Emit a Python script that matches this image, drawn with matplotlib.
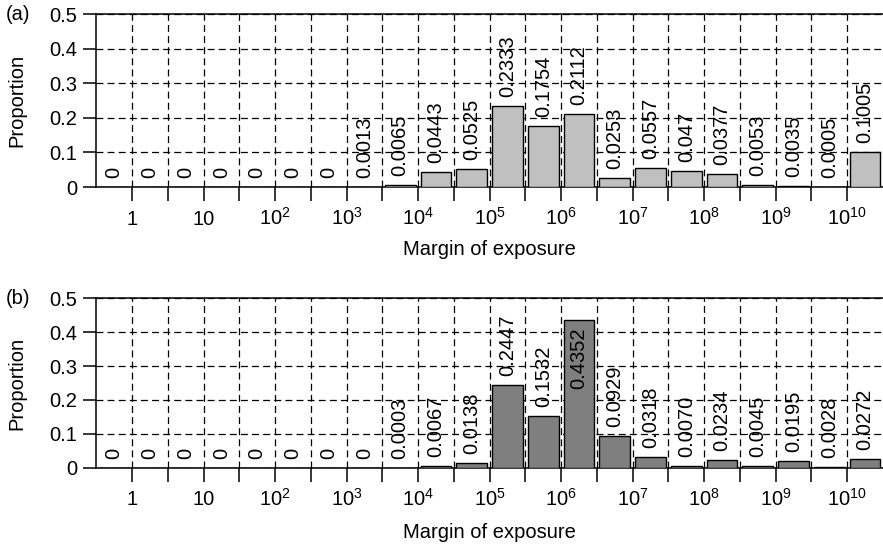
import numpy as np
import matplotlib
matplotlib.use("Agg")
import matplotlib.pyplot as plt

plt.rcParams['font.family'] = ['Liberation Sans', 'DejaVu Sans']
plt.rcParams['mathtext.default'] = 'regular'
plt.rcParams['lines.scale_dashes'] = False

# half-decade bins of log10(margin of exposure), from 10^-0.5 up to 10^10.5
bin_lo = np.arange(-0.5, 10.5, 0.5)
tick_pos = np.arange(0, 11)
tick_labels = ['1', '10', '$10^{2}$', '$10^{3}$', '$10^{4}$', '$10^{5}$',
               '$10^{6}$', '$10^{7}$', '$10^{8}$', '$10^{9}$', '$10^{10}$']

# proportions per bin, as printed over each bar
labels_a = ['0', '0', '0', '0', '0', '0', '0', '0.0013', '0.0065', '0.0443', '0.0525',
            '0.2333', '0.1754', '0.2112', '0.0253', '0.0557', '0.047', '0.0377',
            '0.0053', '0.0035', '0.0005', '0.1005']
labels_b = ['0', '0', '0', '0', '0', '0', '0', '0', '0.0003', '0.0067', '0.0138',
            '0.2447', '0.1532', '0.4352', '0.0929', '0.0318', '0.0070', '0.0234',
            '0.0045', '0.0195', '0.0028', '0.0272']

FS = 14.5


def draw_panel(ax, labels, color, xlab_y):
    vals = [float(s) for s in labels]
    centers = bin_lo + 0.25
    ax.bar(centers, vals, width=0.43, color=color, edgecolor='black', linewidth=1.0, zorder=3)
    for x, v, s in zip(centers, vals, labels):
        if v > 0.4:
            # tall bar: label goes inside
            ax.annotate(s, (x, v), xytext=(0, -5), textcoords='offset points',
                        rotation=90, ha='center', va='top', fontsize=FS, zorder=4)
        else:
            ax.annotate(s, (x, v), xytext=(0, 6.5), textcoords='offset points',
                        rotation=90, ha='center', va='bottom', fontsize=FS, zorder=4)

    ax.set_xlim(-0.5, 10.5)
    ax.set_ylim(0, 0.5)
    ax.set_xticks(tick_pos)
    ax.set_xticklabels(tick_labels, fontsize=FS)
    ax.set_xticks(np.arange(0.5, 10.5, 1.0), minor=True)
    ax.set_yticks([0, 0.1, 0.2, 0.3, 0.4, 0.5])
    ax.set_yticklabels(['0', '0.1', '0.2', '0.3', '0.4', '0.5'], fontsize=FS)
    for lbl in ax.get_xticklabels():
        lbl.set_va('baseline')
    ax.tick_params(axis='x', which='both', direction='out', length=10, width=1.1, pad=17)
    ax.tick_params(axis='y', direction='out', length=9.5, width=1.1, pad=4)

    ax.grid(True, which='both', axis='x', color='black', linewidth=0.9, dashes=(5, 3), zorder=1)
    ax.grid(True, axis='y', color='black', linewidth=0.9, dashes=(5, 3), zorder=1)
    ax.spines['right'].set_visible(False)
    for sp in ['left', 'bottom', 'top']:
        ax.spines[sp].set_linewidth(1.1)

    ax.set_ylabel('Proportion', fontsize=FS)
    ax.yaxis.set_label_coords(-0.089, 0.5)
    ax.set_xlabel('Margin of exposure', fontsize=FS)
    ax.xaxis.label.set_va('center')
    ax.xaxis.set_label_coords(0.5, xlab_y)


fig = plt.figure(figsize=(8.83, 5.46), dpi=100)
ax1 = fig.add_axes([0.109, 0.6575, 0.891, 0.3165])
ax2 = fig.add_axes([0.109, 0.143, 0.891, 0.311])

draw_panel(ax1, labels_a, '#c0c0c0', -0.36)
draw_panel(ax2, labels_b, '#7f7f7f', -0.38)

fig.text(0.006, 0.974, '(a)', fontsize=FS, va='center')
fig.text(0.006, 0.454, '(b)', fontsize=FS, va='center')

fig.savefig('out.png', dpi=100)
